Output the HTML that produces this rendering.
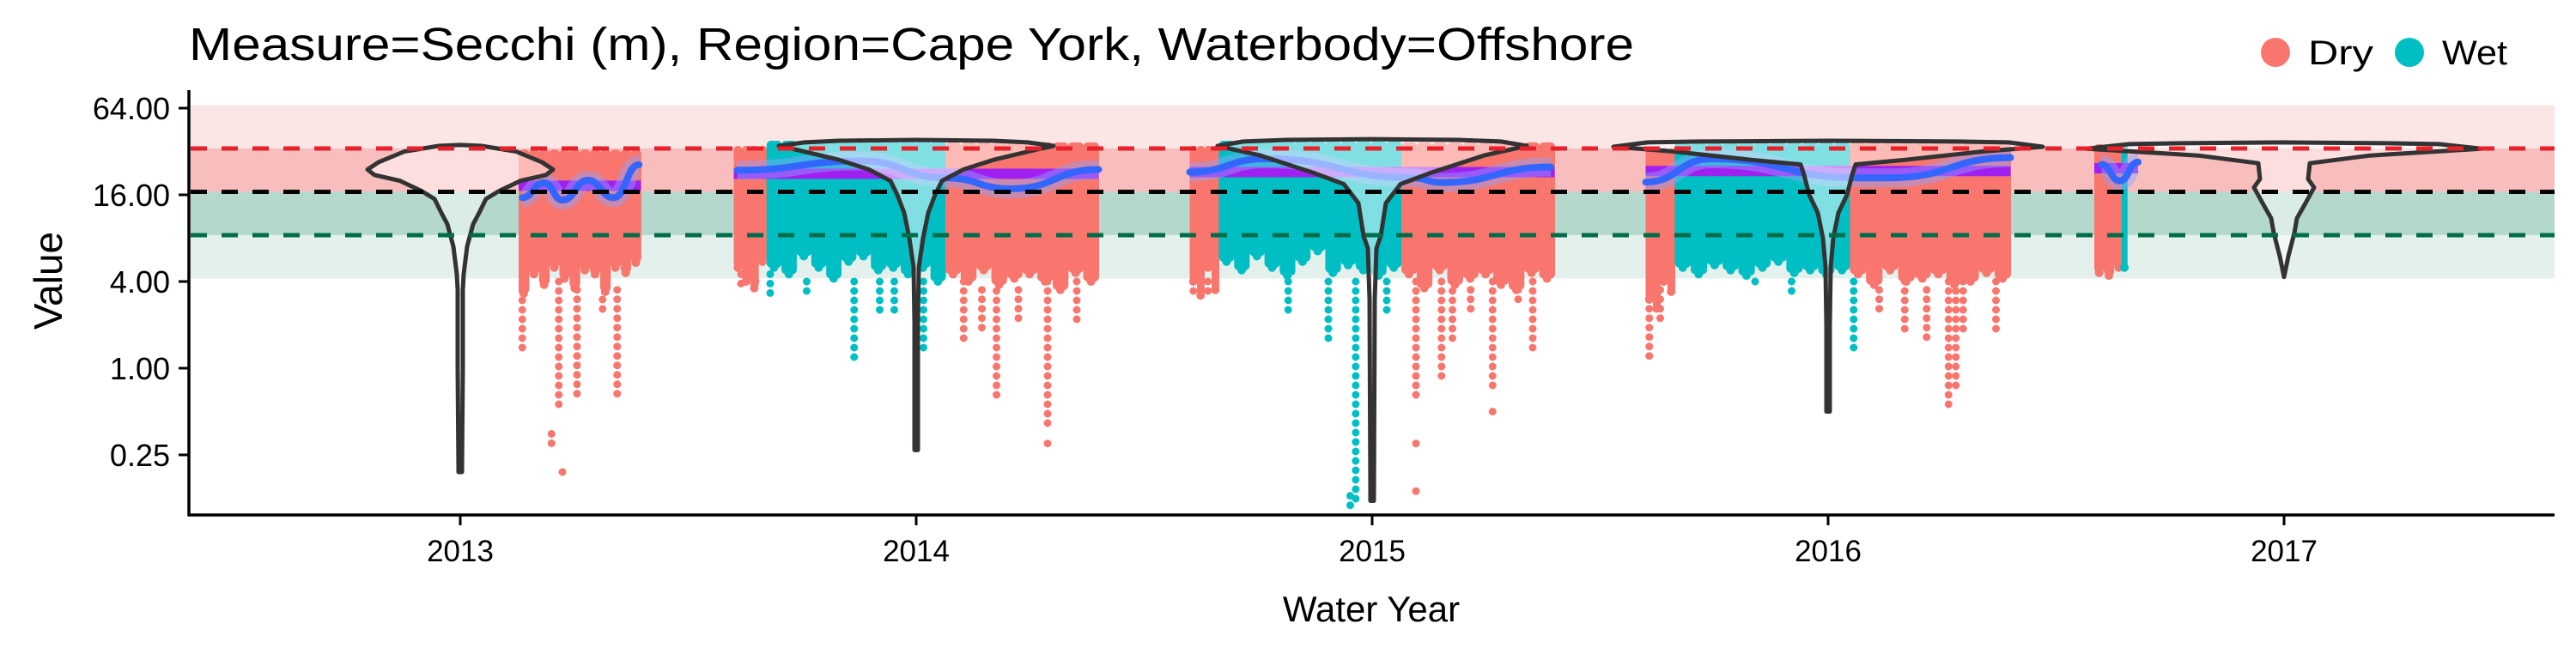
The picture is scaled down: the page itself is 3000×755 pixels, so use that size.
<!DOCTYPE html>
<html><head><meta charset="utf-8"><style>
html,body{margin:0;padding:0;background:#fff;}
svg text{font-family:"Liberation Sans",Arial,sans-serif;}
</style></head><body>
<svg id="chart" width="3000" height="750" viewBox="0 0 3000 750" xmlns="http://www.w3.org/2000/svg">
<text x="220" y="70" font-size="54" textLength="1683" lengthAdjust="spacingAndGlyphs" fill="#000">Measure=Secchi (m), Region=Cape York, Waterbody=Offshore</text>
<g>
<circle cx="2650" cy="61" r="17" fill="#F8766D"/>
<text x="2688" y="75" font-size="40" textLength="76" lengthAdjust="spacingAndGlyphs">Dry</text>
<circle cx="2806" cy="61" r="17" fill="#00BFC4"/>
<text x="2844" y="75" font-size="40" textLength="76" lengthAdjust="spacingAndGlyphs">Wet</text>
</g>
<g id="plot"></g>
<text transform="translate(72,327) rotate(-90)" text-anchor="middle" font-size="46">Value</text>
<text x="1597" y="724" text-anchor="middle" font-size="42">Water Year</text>
</svg>
<script>
const yearCats=[2013,2014,2015,2016,2017];
const yTicks=[0.25,1,4,16,64];
const yTickLabels=["0.25","1.00","4.00","16.00","64.00"];
const bandEdges=[67,33.6,16.8,8.4,4.2];
const bandColors=["#fbe6e6","#f8bdbd","#b5d8cc","#e3f0eb"];
const refLines=[33.6,16.8,8.4];
const refColors=["#e8202a","#000000","#006d4a"];
// dense point blocks
const blockYear=[2013,2014,2014,2014,2015,2015,2015,2016,2016,2016,2017,2017];
const blockSeason=["Dry","Dry","Wet","Dry","Dry","Wet","Dry","Dry","Wet","Dry","Dry","Wet"];
const blockF0=[0.66,0.0,0.09,0.58,0.0,0.08,0.58,0.0,0.08,0.56,-0.02,0.055];
const blockF1=[0.995,0.09,0.58,1.0,0.08,0.58,1.0,0.08,0.56,1.0,0.06,0.07];
const blockTop=[33,35,38,37,35,38,37,34,37,37,36,36];
const blockFloors=[
[3.3,4.5,3.8,5,4.2,3.6,4.8,4.5,3.4,5,4.6,5.4],
[5,4,3.6,5.5],
[5,4.5,6,5,4.2,5.5,6,4.8,5,4.5,5,4],
[4.5,4,4.8,3.8,4.2,4.5,4,3.5,4.6,4],
[4,3.2,5,3.5],
[5.5,4.8,6,5,4.4,5.5,6.5,4.6,5.2,4.8,4.4,5],
[4.5,3.6,4.8,3.8,4.2,4.5,3.8,3.5,4.6,4.2],
[3,2.6,4,3.4],
[5,4.5,5.2,4.8,4.4,5,5.5,4.6,4.8,4.5,4.8],
[4.5,3.8,4.8,4,4.2,4.5,3.8,4,4.6,4.2],
[4.6,4.4,5],
[5]
];
// outlier streaks
const outYear=[2013,2013,2013,2013,2013,2013,2013,2014,2014,2014,2014,2014,2014,2014,2014,2014,2015,2015,2015,2015,2015,2015,2015,2015,2015,2015,2015,2015,2016,2016,2016,2016,2016,2016,2016,2016,2016,
 2014,2014,2014,2014,2014,2014,2015,2015,2015,2015,2015,2016,2016,2016];
const outSeason=["Dry","Dry","Dry","Dry","Dry","Dry","Dry","Dry","Dry","Dry","Dry","Dry","Dry","Dry","Dry","Dry","Dry","Dry","Dry","Dry","Dry","Dry","Dry","Dry","Dry","Dry","Dry","Dry","Dry","Dry","Dry","Dry","Dry","Dry","Dry","Dry","Dry",
 "Wet","Wet","Wet","Wet","Wet","Wet","Wet","Wet","Wet","Wet","Wet","Wet","Wet","Wet"];
const outFrac=[0.67,0.77,0.78,0.75,0.82,0.93,0.89,0.06,0.02,0.63,0.72,0.86,0.86,0.94,0.78,0.68,0.01,0.05,0.62,0.62,0.62,0.69,0.83,0.83,0.94,0.72,0.77,0.9,0.01,0.04,0.71,0.83,0.85,0.87,0.96,0.64,0.77,
 0.1,0.33,0.4,0.44,0.52,0.2,0.455,0.38,0.27,0.54,0.44,0.57,0.4,0.3];
const outHi=[4,4,0.19,0.35,3.5,3.5,3,4,4.5,4,4,4,0.3,4,3.5,3.5,4,4,4,0.3,0.14,4,4,0.5,4,4,3.5,3.5,3.5,3.5,4,4,4,4,4,3.5,3.5,
 4.5,4,4,4,4,4,4,4,4,4,0.13,4,4,4];
const outLo=[1.3,0.5,0.19,0.28,0.65,0.65,2.4,3.8,3.5,1.5,0.65,0.4,0.29,2.0,2.2,1.9,3,3.3,0.6,0.28,0.13,0.8,0.75,0.5,1.2,1.6,2.5,2.6,1.1,2.2,1.75,0.53,0.7,1.8,1.8,2.4,1.5,
 3.0,1.07,2.4,2.3,1.3,3.2,0.12,1.5,2.5,2.5,0.11,1.2,3.3,3.5];
// seasonal medians and trends
const medianYear=[2013,2014,2015,2016,2017];
const medianF0=[0.66,0.0,0.0,0.0,-0.02];
const medianF1=[0.995,1.0,1.0,1.0,0.1];
const medianValue=[18.5,22.4,23,23.4,24.5];
const trendYear=[2013,2014,2015,2016,2017];
const trendFrac=[[0.67,0.73,0.78,0.85,0.92,0.99],[0.01,0.35,0.58,0.76,1.0],[0.0,0.21,0.61,0.69,0.99],[0.0,0.18,0.58,0.67,1.0],[0.0,0.05,0.1]];
const trendValue=[[15.3,19.4,14.7,20.2,15.3,25.9],[23.7,27.5,21,17.6,24],[23,28.5,21,19.5,25],[19.6,28.5,21,21,29],[26,20,27]];
// violins: value, half-width
const violinYear=[2013,2014,2015,2016,2017];
const violinVals=[
[35.5,35,32,27,24,22,20,17,15,12,10,7,4.5,3.5,1,0.19],
[38.5,38,37,35,33,28,24,20,16,12,8,5,2,0.27],
[39,38.5,37.5,35,30,22.6,19,14,8.3,6.8,3,0.12],
[38,37.5,37,34.5,32,28,26,22,16,12,8,5,2,0.5],
[37,36.5,36,33.5,30,26.5,20.6,18,14,11,8.7,6,4.3]
];
const violinHW=[
[0,25,65,95,108,100,70,45,30,22,15,8,4,3,3,2],
[0,90,130,160,140,90,55,30,22,14,8,3,2,2],
[0,100,150,180,130,67,33,16,10,5,3,2],
[0,150,210,250,180,90,32,28,22,12,6,3,2,2],
[0,120,180,230,100,30,28,35,25,15,12,5,0]
];

const NS="http://www.w3.org/2000/svg";
const plot=document.getElementById('plot');
const X0=220,X1=2975,Y1=600;
function yScale(v){return 126+(6-Math.log2(v))*50.5;}
function xYear(y){return 536+(y-2013)*531;}
function xDate(y,f){return xYear(y)+(f-0.5)*425;}
function mk(tag,attrs,parent){const e=document.createElementNS(NS,tag);for(const k in attrs)e.setAttribute(k,attrs[k]);(parent||plot).appendChild(e);return e;}
const colors={Dry:"#F8766D",Wet:"#00BFC4"};

for(let i=0;i<bandColors.length;i++){
 const r=mk('rect',{x:X0+2,y:yScale(bandEdges[i]),width:X1-X0-2,height:yScale(bandEdges[i+1])-yScale(bandEdges[i]),fill:bandColors[i]});
 
 
}
for(let b=0;b<blockYear.length;b++){
 const g=mk('g',{fill:colors[blockSeason[b]]});
 
 
 const fl=blockFloors[b],n=fl.length;
 const xa=xDate(blockYear[b],blockF0[b]),xb=xDate(blockYear[b],blockF1[b]);
 const w=(xb-xa)/n, yt=yScale(blockTop[b]);
 for(let i=0;i<n;i++){
  const yb=yScale(fl[i]);
  mk('rect',{x:xa+i*w,y:yt,width:w+0.5,height:yb-yt,rx:Math.min(5,w/2)},g);
  mk('circle',{cx:xa+i*w+w/2,cy:yb,r:5},g);
 }
}
for(let i=0;i<outYear.length;i++){
 const x=xDate(outYear[i],outFrac[i]);
 const l=mk('line',{x1:x,x2:x,y1:yScale(outHi[i]),y2:yScale(outLo[i])+0.1,stroke:colors[outSeason[i]],'stroke-width':9,'stroke-linecap':'round','stroke-dasharray':'0 11'});
 
 
}
for(let i=0;i<medianYear.length;i++){
 const y=yScale(medianValue[i]);
 const l=mk('line',{x1:xDate(medianYear[i],medianF0[i]),x2:xDate(medianYear[i],medianF1[i]),y1:y,y2:y,stroke:"#a020f0",'stroke-width':12});
 
 
}
for(let i=0;i<trendYear.length;i++){
 const pts=trendFrac[i].map((f,j)=>[xDate(trendYear[i],f),yScale(trendValue[i][j])]);
 let d="M"+pts[0][0]+","+pts[0][1];
 for(let j=1;j<pts.length;j++){const p=pts[j-1],q=pts[j],mx=(p[0]+q[0])/2;d+=" C"+mx+","+p[1]+" "+mx+","+q[1]+" "+q[0]+","+q[1];}
 const rib=mk('path',{d:d,fill:'none',stroke:'#8fa3ff','stroke-width':22,'stroke-opacity':0.45});
 
 
 const p=mk('path',{d:d,fill:'none',stroke:'#3366ff','stroke-width':8,'stroke-linecap':'round'});
 
 
}
for(let i=0;i<violinYear.length;i++){
 const cx=xYear(violinYear[i]),vs=violinVals[i],hw=violinHW[i];
 let right=vs.map((v,j)=>[cx+hw[j],yScale(v)]);
 let left=vs.map((v,j)=>[cx-hw[j],yScale(v)]).reverse();
 const all=right.concat(left);
 const d="M"+all.map(p=>p[0].toFixed(1)+","+p[1].toFixed(1)).join(" L")+" Z";
 const p=mk('path',{d:d,fill:'#ffffff','fill-opacity':0.5,stroke:'#333333','stroke-width':5,'stroke-linejoin':'round'});
 
 
}
for(let i=0;i<refLines.length;i++){
 const y=yScale(refLines[i]);
 const l=mk('line',{x1:X0+2,x2:X1,y1:y,y2:y,stroke:refColors[i],'stroke-width':5,'stroke-dasharray':'19 17'});
 
 
}
const ax=mk('path',{d:"M"+X0+",105 L"+X0+","+Y1+" L"+X1+","+Y1,fill:'none',stroke:'#000','stroke-width':3.5});


for(let i=0;i<yTicks.length;i++){
 const y=yScale(yTicks[i]);
 const t=mk('line',{x1:X0-12,x2:X0,y1:y,y2:y,stroke:'#000','stroke-width':3});
 
 
 const tx=mk('text',{x:X0-22,y:y+13,'text-anchor':'end','font-size':36,fill:'#000'});
 tx.textContent=yTickLabels[i];
 
 
}
for(let i=0;i<yearCats.length;i++){
 const x=xYear(yearCats[i]);
 const t=mk('line',{x1:x,x2:x,y1:Y1,y2:Y1+12,stroke:'#000','stroke-width':3});
 
 
 const tx=mk('text',{x:x,y:654,'text-anchor':'middle','font-size':35,fill:'#000'});
 tx.textContent=String(yearCats[i]);
 
 
}
</script>
</body></html>
